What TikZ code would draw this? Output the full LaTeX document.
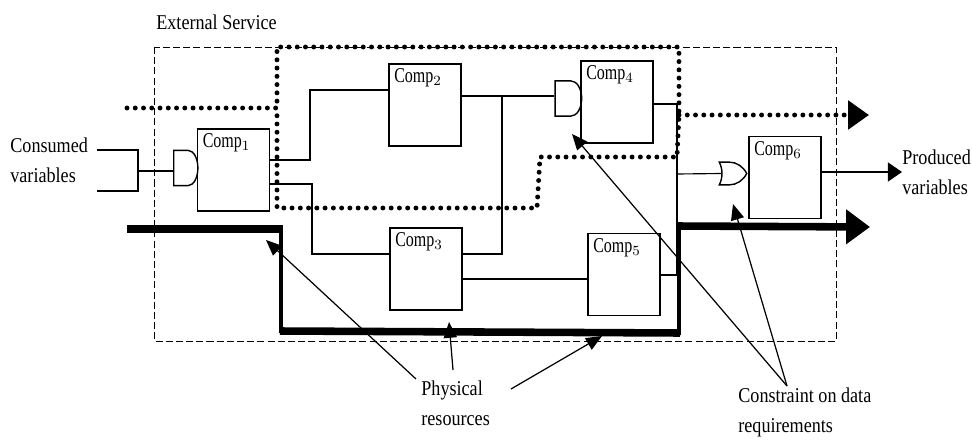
\documentclass[tikz,border=0pt]{standalone}
\usepackage{fontspec}
\setmainfont[FakeStretch=0.86]{Liberation Serif}
\newfontfamily\compfont[FakeStretch=0.76]{Liberation Serif}
\usetikzlibrary{arrows.meta,shapes.gates.logic.US}

\begin{document}
\begin{tikzpicture}[
    x=0.02cm, y=-0.02cm,
    compbox/.style={draw, line width=0.8pt, inner sep=0pt, text width=35pt, align=left, font=\compfont\fontsize{12}{12}\selectfont,
        text height=10.6pt, text depth=35.9pt, minimum width=40.8pt, inner xsep=2.9pt},
    andgate/.style={and gate US, draw, line width=0.8pt, inner sep=0pt, minimum width=15pt, minimum height=20pt, transform shape, xscale=0.55},
    orgate/.style={or gate US, draw, line width=0.8pt, inner sep=0pt, minimum width=16pt, minimum height=15pt, transform shape, xscale=0.68, yscale=0.77},
    txt/.style={align=left, anchor=west, inner sep=0pt, font=\fontsize{12}{17}\selectfont},
    wire/.style={line width=0.65pt},
    dotline/.style={line width=2.8pt, line cap=round, dash pattern=on 0pt off 4.7pt},
    resh/.style={line width=4.3pt},
    resv/.style={line width=2.8pt},
    note/.style={line width=0.7pt, -{Triangle[length=9pt, width=7.5pt]}}
]
\useasboundingbox (0,0) rectangle (972,439);

% outer service box
\draw[line width=0.5pt, dash pattern=on 4pt off 1.8pt] (154,47) rectangle (836,341);
\node[txt] (service) at (156,22) {External Service};

% components
\node[compbox] (c1) at (233.5,170) {Comp$_1$};
\node[compbox] (c2) at (425,105) {Comp$_2$};
\node[compbox] (c3) at (426,269) {Comp$_3$};
\node[compbox] (c4) at (617,102) {Comp$_4$};
\node[compbox] (c5) at (624,274.5) {Comp$_5$};
\node[compbox] (c6) at (785,177.5) {Comp$_6$};

% gates
\node[andgate] (g1) at (185,168) {};
\node[andgate, xscale=1.1] (g4) at (567.5,98.5) {};
\node[orgate] (g6) at (731,173.5) {};

% labels
\node[txt] (consumed) at (10,160) {Consumed\\variables};
\node[txt] (produced) at (902,172) {Produced\\variables};
\node[txt] (physical) at (421,403) {Physical\\resources};
\node[txt] (constraint) at (738,412) {Constraint on data\\requirements};

% connection points
\coordinate (in1) at (97,150);
\coordinate (in2) at (97,191);
\coordinate (g1i) at (173,171);
\coordinate (c1a) at (270,160);
\coordinate (c1b) at (270,184);
\coordinate (c2i) at (389,90);
\coordinate (c2o) at (461,96);
\coordinate (g4i) at (554,96);
\coordinate (c3i) at (390,254);
\coordinate (c3a) at (462,254);
\coordinate (c3b) at (462,279);
\coordinate (c5i) at (588,279);
\coordinate (c5o) at (660,275);
\coordinate (c4o) at (653,104);
\coordinate (c6o) at (821,172);
\coordinate (prodend) at (902,172);

% wires
\draw[wire] (in1) -- (138,150) -- (138,191) -- (in2);
\draw[wire] (138,171) -- (g1i);
\draw[wire] (c1a) -- (310,160) -- (310,90) -- (c2i);
\draw[wire] (c1b) -- (312,184) -- (312,254) -- (c3i);
\draw[wire] (c2o) -- (g4i);
\draw[wire] (502,96) -- (502,254) -- (c3a);
\draw[wire] (c3b) -- (c5i);
\draw[wire] (c4o) -- (677,104) -- (677,275) -- (c5o);
\draw[wire] (677,174) -- (g6.west);
\draw[wire, -{Triangle[length=8pt, width=10.8pt]}] (c6o) -- (prodend);

% data path (dotted)
\coordinate (datain) at (127,108);
\coordinate (dataout) at (869,115);
\draw[dotline] (datain) -- (277,108) -- (277,47) -- (679,47) -- (679,115) -- (677,157)
    -- (540,157) -- (537,208) -- (277,208) -- (277,108);
\draw[dotline, -{Triangle[length=11.9pt, width=16pt]}] (679,115) -- (dataout);

% physical resources (solid)
\coordinate (resin) at (127,229);
\coordinate (resout) at (870,227);
\draw[resh] (resin) -- (283,229);
\draw[resv] (281,227) -- (281,333);
\draw[resh] (280,331) -- (680,333);
\draw[resv] (679,335) -- (679,224);
\draw[resh, -{Triangle[length=13.6pt, width=19pt]}] (678,226) -- (resout);

% notes
\draw[note] (416,379) -- (266,240);
\draw[note] (453,370) -- (449,322);
\draw[note] (511,389) -- (602,336);
\draw[note] (787,386) -- (572,134);
\draw[note] (787,386) -- (733,204);
\end{tikzpicture}
\end{document}
